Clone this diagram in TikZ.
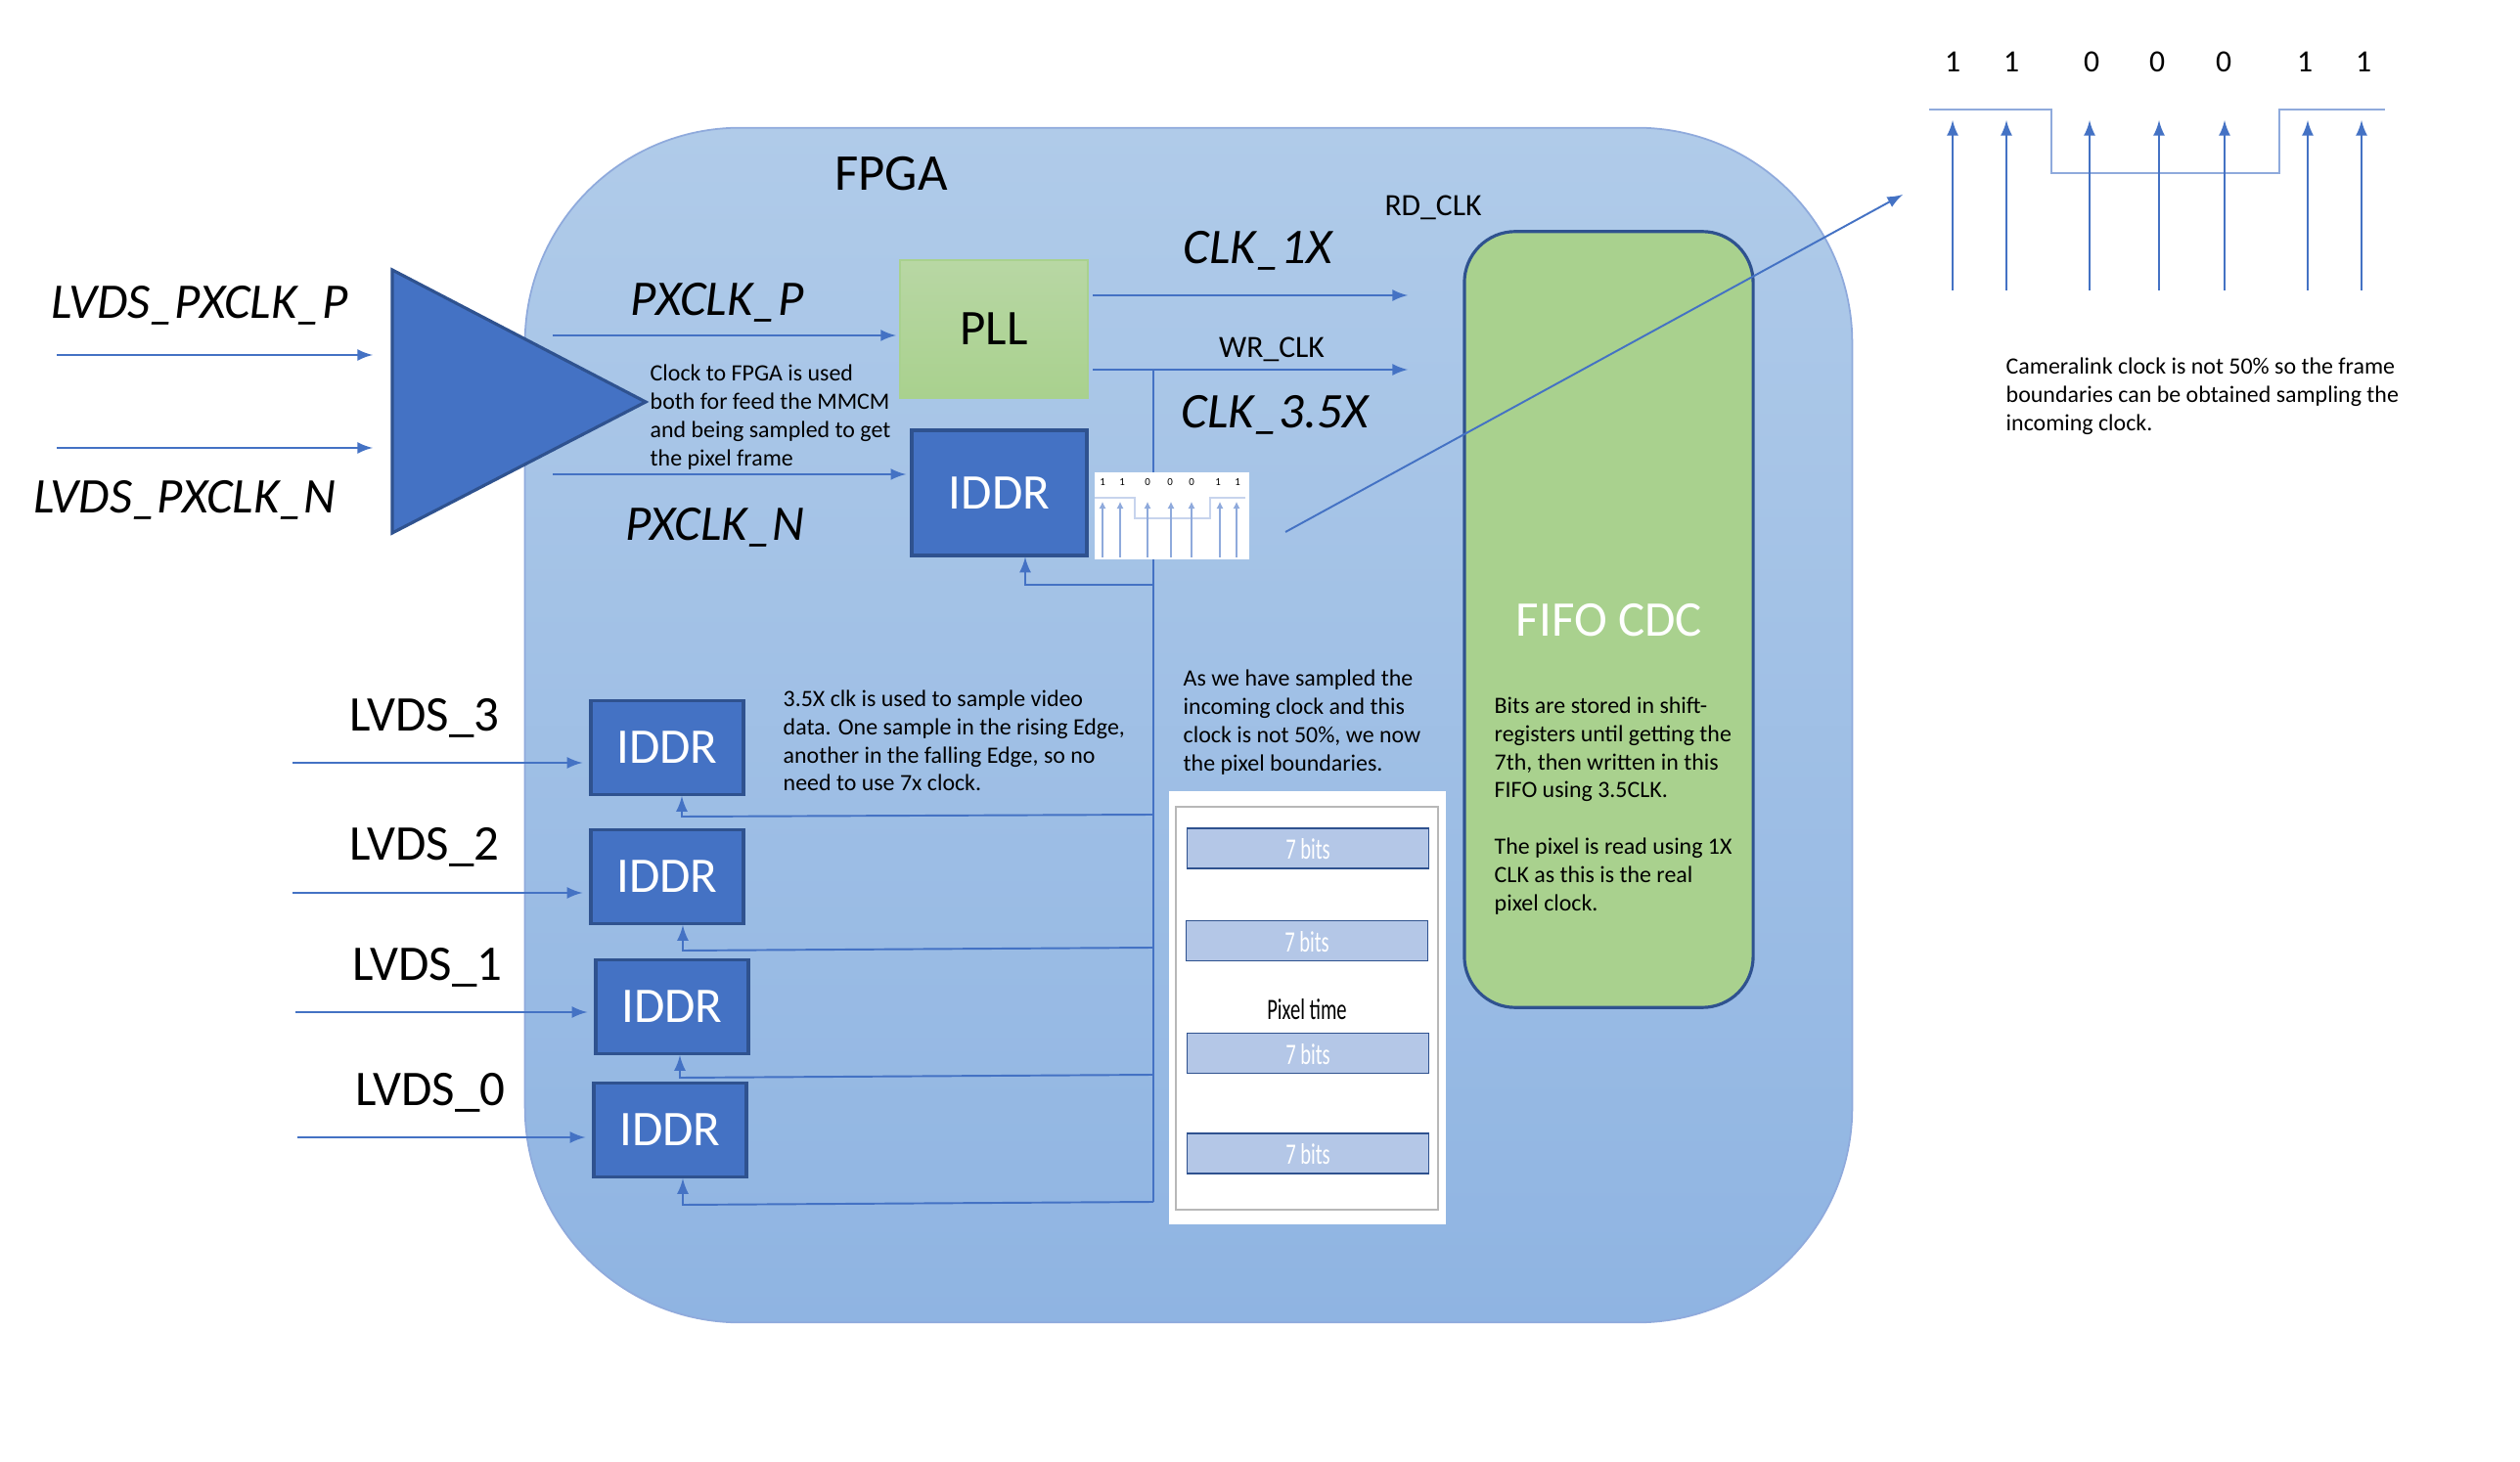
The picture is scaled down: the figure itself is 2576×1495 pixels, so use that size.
\documentclass[tikz,border=0pt]{standalone}
\usepackage{fontspec}
\usepackage{xcolor}
\usetikzlibrary{arrows.meta}
\setmainfont{Carlito}
\definecolor{accent}{HTML}{4472C4}
\definecolor{accentdark}{HTML}{2F528F}
\definecolor{wavecol}{HTML}{8FAADC}
\definecolor{fifogreen}{HTML}{A9D18E}
\definecolor{plltop}{HTML}{B8D7A4}
\definecolor{barfill}{HTML}{B4C7E7}
\definecolor{fpgatop}{HTML}{B0CBE9}
\definecolor{fpgabot}{HTML}{8FB4E2}

\begin{document}
\begin{tikzpicture}[x=0.01cm,y=-0.01cm,>=latex,
  sigline/.style={accent,line width=0.55pt},
  idbox/.style={draw=accentdark,line width=0.9pt,fill=accent,text=white,font=\fontsize{14.5}{17}\selectfont,minimum width=1.56cm,minimum height=0.96cm,inner sep=0pt},
  biglabel/.style={font=\fontsize{14.5}{17}\selectfont\itshape,inner sep=0pt},
  inlabel/.style={font=\fontsize{14.5}{17}\selectfont,inner sep=0pt},
  note/.style={font=\fontsize{6.8}{8.2}\selectfont,align=left,anchor=west,inner sep=0pt},
  bitbar/.style={draw=accentdark,line width=0.5pt,fill=barfill,text=white,minimum width=2.47cm,minimum height=0.41cm,inner sep=0pt}]
\useasboundingbox (0,0) rectangle (2576,1495);

% fpga body
\node[rounded corners=2.2cm,draw=wavecol,line width=0.5pt,top color=fpgatop,bottom color=fpgabot,minimum width=13.56cm,minimum height=12.21cm] (fpga) at (1215,741.5) {};
\node[font=\fontsize{15}{18}\selectfont,inner sep=0pt] (fpgalabel) at (911,178) {FPGA};

% input buffer
\coordinate (trione) at (401,276);
\coordinate (tritwo) at (660,411);
\coordinate (trithree) at (401,545);
\draw[draw=accentdark,line width=0.9pt,fill=accent] (trione) -- (tritwo) -- (trithree) -- cycle;
\coordinate (pin) at (58,363);
\coordinate (pend) at (381,363);
\coordinate (nin) at (58,458);
\coordinate (nend) at (381,458);
\draw[sigline,->] (pin) -- (pend);
\draw[sigline,->] (nin) -- (nend);
\node[biglabel] (lvdsp) at (204,312) {LVDS\_PXCLK\_P};
\node[biglabel] (lvdsn) at (189,511) {LVDS\_PXCLK\_N};

% pll, iddr
\node[draw=fifogreen,line width=0.5pt,top color=plltop,bottom color=fifogreen,minimum width=1.92cm,minimum height=1.41cm,font=\fontsize{14.5}{17}\selectfont,inner sep=0pt] (pll) at (1016,336.5) {PLL};
\node[idbox,minimum width=1.79cm,minimum height=1.28cm] (iddrclk) at (1021.5,504) {IDDR};
\coordinate (pfrom) at (565,343);
\coordinate (nfrom) at (565,485);
\draw[sigline,->] (pfrom) -- ([xshift=-0.9pt]pfrom -| pll.west);
\draw[sigline,->] (nfrom) -- ([xshift=-1.2pt]nfrom -| iddrclk.west);
\node[biglabel] (pxp) at (733,309) {PXCLK\_P};
\node[biglabel] (pxn) at (731,539) {PXCLK\_N};
\node[note] (clknote) at (664,426.5) {Clock to FPGA is used\\both for feed the MMCM\\and being sampled to get\\the pixel frame};

% clocks out of the pll
\coordinate (clkone) at (1117,302);
\coordinate (clkoneend) at (1439,302);
\coordinate (clkthree) at (1117,378);
\coordinate (clkthreeend) at (1439,378);
\draw[sigline,->] (clkone) -- (clkoneend);
\draw[sigline,->] (clkthree) -- (clkthreeend);
\node[biglabel] (clkonelabel) at (1286,256) {CLK\_1X};
\node[biglabel] (clkthreelabel) at (1303,424) {CLK\_3.5X};
\node[font=\fontsize{9}{11}\selectfont,inner sep=0pt] (wrclk) at (1300,357) {WR\_CLK};
\node[font=\fontsize{9}{11}\selectfont,inner sep=0pt] (rdclk) at (1465,212) {RD\_CLK};

% clock bus
\coordinate (bustop) at (1179,378);
\coordinate (busbot) at (1179,1229);
\draw[sigline] (bustop) -- (busbot);
\coordinate (tapclk) at (1179,598);
\coordinate (turnclk) at (1048,598);
\draw[sigline,->] (tapclk) -- (turnclk) -- (turnclk |- iddrclk.south);

% data iddr
\node[idbox] (iddrthree) at (682,764.5) {IDDR};
\node[idbox] (iddrtwo) at (682,896.5) {IDDR};
\node[idbox] (iddrone) at (687,1029.5) {IDDR};
\node[idbox] (iddrzero) at (685,1155.5) {IDDR};
\node[inlabel] (lvdsthree) at (434,734) {LVDS\_3};
\node[inlabel] (lvdstwo) at (434,866) {LVDS\_2};
\node[inlabel] (lvdsone) at (437,989) {LVDS\_1};
\node[inlabel] (lvdszero) at (440,1117) {LVDS\_0};
\foreach \n/\x/\y/\t/\u/\v in {three/299/780/833/835/697,two/299/913/969/972/698,one/302/1035/1099/1102/695,zero/304/1163/1229/1232/698} {
  \coordinate (in\n) at (\x,\y);
  \draw[sigline,->] (in\n) -- ([xshift=-2pt]in\n -| iddr\n.west);
  \coordinate (tap\n) at (1179,\t);
  \coordinate (turn\n) at (\v,\u);
  \draw[sigline,->] (tap\n) -- (turn\n) -- (turn\n |- iddr\n.south);
}
\node[note] (samplenote) at (800,757.5) {3.5X clk is used to sample video\\data. One sample in the rising Edge,\\another in the falling Edge, so no\\need to use 7x clock.};
\node[note] (boundnote) at (1209,738.5) {As we have sampled the\\incoming clock and this\\clock is not 50\%, we now\\the pixel boundaries.};

% small copy of the waveform
\node[fill=white,minimum width=1.58cm,minimum height=0.89cm,inner sep=0pt] (smallwave) at (1198,527.5) {};
\draw[wavecol!50,line width=0.4pt] (1119,509) -- (1160,509) -- (1160,530) -- (1237,530) -- (1237,509) -- (1273,509);
\foreach \n/\x/\l/\b in {1/1127/1127/1,2/1145/1147/1,3/1173/1173/0,4/1197/1196/0,5/1218/1218/0,6/1247/1245/1,7/1264/1265/1} {
  \coordinate (tipsmall\n) at (\x,513);
  \draw[accent!60,line width=0.3pt,-{Latex[length=2pt,width=2pt]}] (\x,570) -- (tipsmall\n);
  \node[font=\fontsize{3.1}{4}\selectfont,inner sep=0pt] (bitsmall\n) at (\l,493) {\b};
}

% arrow to the enlarged waveform
\coordinate (diagstart) at (1314,544);
\coordinate (diagend) at (1945,199);

% pixel panel
\node[fill=white,minimum width=2.83cm,minimum height=4.43cm,inner sep=0pt] (pixpanel) at (1336.5,1030.5) {};
\node[draw=black!28,line width=0.5pt,fill=white,minimum width=2.68cm,minimum height=4.12cm,inner sep=0pt] (pixframe) at (1336,1031) {};
\foreach \n/\x/\y in {a/1337/867.5,b/1336/962,c/1337/1077,d/1337/1179.5} {
  \node[bitbar] (bar\n) at (\x,\y) {};
  \node[font=\fontsize{8.6}{10}\selectfont,xscale=0.68,text=white,inner sep=0pt] (bits\n) at (\x,\y+1) {7 bits};
}
\node[font=\fontsize{8.6}{10}\selectfont,xscale=0.68,inner sep=0pt] (pixtime) at (1336,1032) {Pixel time};

% fifo
\node[rounded corners=0.52cm,draw=accentdark,line width=0.9pt,fill=fifogreen,minimum width=2.95cm,minimum height=7.93cm,inner sep=0pt] (fifo) at (1644.5,633.5) {};
\node[font=\fontsize{14.5}{17}\selectfont,text=white,inner sep=0pt] (fifolabel) at (1645,634) {FIFO CDC};
\node[note] (fifonote) at (1527,824) {Bits are stored in shift-\\registers until getting the\\7th, then written in this\\FIFO using 3.5CLK.\\[8.2pt]The pixel is read using 1X\\CLK as this is the real\\pixel clock.};
\draw[sigline,->] (diagstart) -- (diagend);

% enlarged waveform
\draw[wavecol,line width=0.4pt] (1972,112) -- (2097,112) -- (2097,177) -- (2330,177) -- (2330,112) -- (2438,112);
\foreach \n/\x/\l/\b in {1/1996/1996/1,2/2051/2056/1,3/2136/2138/0,4/2207/2205/0,5/2274/2273/0,6/2359/2356/1,7/2414/2416/1} {
  \coordinate (tipbig\n) at (\x,123);
  \draw[sigline,->] (\x,297) -- (tipbig\n);
  \node[font=\fontsize{9}{11}\selectfont,inner sep=0pt] (bitbig\n) at (\l,63) {\b};
}
\node[note] (camnote) at (2050,405.5) {Cameralink clock is not 50\% so the frame\\boundaries can be obtained sampling the\\incoming clock.};
\end{tikzpicture}
\end{document}
